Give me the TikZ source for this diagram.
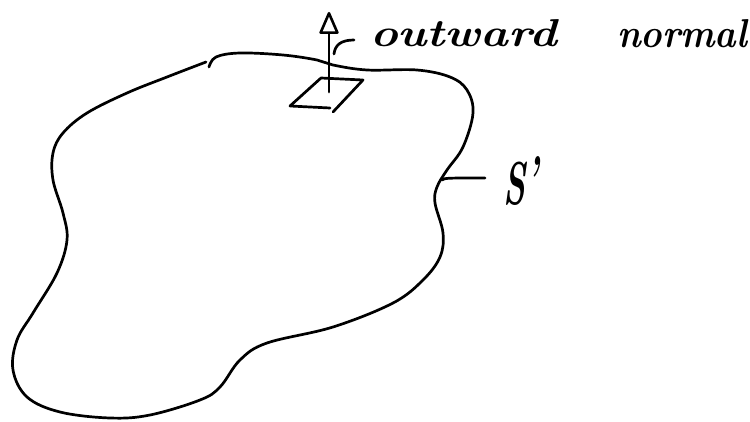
\documentclass[tikz,border=0pt]{standalone}
\usetikzlibrary{arrows.meta}
\begin{document}
\begin{tikzpicture}[x=1pt,y=-1pt,
  pen/.style={line width=2.7pt,line cap=round,line join=round},
  hand/.style={inner sep=0pt,outer sep=0pt,anchor=base west,font=\bfseries\itshape}]
\useasboundingbox[fill=white] (0,0) rectangle (750,422);
% surface S'
\draw[pen] plot[smooth,tension=0.6] coordinates {
 (209,67) (216,57) (240,53) (283,55) (317,60) (333,65) (367,70) (417,70)
 (450,77) (467,90) (473,113) (463,147) (447,170) (437,187) (435,203)
 (443,233) (440,257) (423,280) (393,303) (333,327) (267,343) (240,360)
 (220,387) (200,400) (150,415) (110,418) (60,412) (27,397) (13,370)
 (17,340) (33,313) (57,273) (67,240) (63,213) (53,180) (53,153)
 (63,133) (87,113) (127,93) (167,77) (206,62)};
% surface element
\coordinate (p1) at (290,106);
\coordinate (p2) at (321,78);
\coordinate (p3) at (363,80);
\coordinate (p4) at (333,112);
\coordinate (p5) at (330,108);
\draw[pen] (p5) -- (p1) -- (p2) -- (p3) -- (p4);
% normal
\coordinate (nb) at (329,92);
\coordinate (nt) at (329,12);
\draw[pen,-{Triangle[open,length=24pt,width=20pt,line width=2.6pt,round]}] (nb) -- (nt);
% labels
\node[hand] (outw) at (370,47) {\resizebox{187pt}{27pt}{outward}};
\node[hand] (norm) at (617,48) {\resizebox{130pt}{28pt}{normal}};
\coordinate (lead) at (334,54);
\draw[pen] (lead) .. controls (335,45) and (341,40) .. (354,40);
% S' label
\coordinate (sa) at (442,180);
\coordinate (sb) at (485,178);
\draw[pen] (sa) .. controls (445,178) .. (sb);
\node[hand] (S) at (503,205) {\resizebox{36pt}{48pt}{S\kern0.05em\raisebox{0.1em}{'}}};
\end{tikzpicture}
\end{document}
